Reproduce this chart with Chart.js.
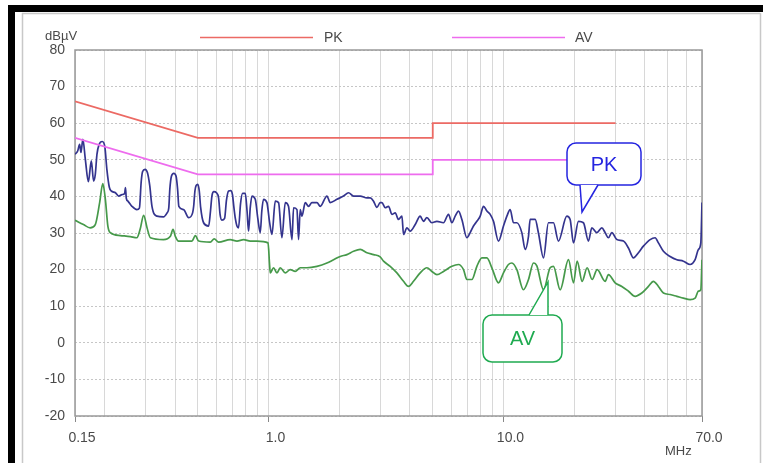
<!DOCTYPE html>
<html>
<head>
<meta charset="utf-8">
<script src="https://cdn.jsdelivr.net/npm/chart.js@4.4.0/dist/chart.umd.min.js"></script>
<style>
html, body { margin: 0; padding: 0; background: #fff; }
#wrap { width: 763px; height: 463px; }
</style>
</head>
<body>
<div id="wrap"><canvas id="emiChart" width="763" height="463"></canvas></div>
<script>
// limit lines, PK and AV
const limitFreq = [0.15, 0.5, 5, 5, 30];
const pkLimit = [66, 56, 56, 60, 60];
const avLimit = [56, 46, 46, 50, 50];

// measured peak trace (MHz / dBuV)
const pkFreq = [
  0.150,0.154,0.157,0.159,0.162,0.166,0.171,0.176,0.180,0.183,
  0.186,0.190,0.196,0.201,0.205,0.210,0.214,0.223,0.230,0.238,
  0.244,0.246,0.248,0.252,0.262,0.275,0.282,0.287,0.291,0.298,
  0.305,0.312,0.319,0.335,0.357,0.370,0.376,0.380,0.386,0.395,
  0.404,0.410,0.415,0.435,0.457,0.475,0.480,0.486,0.492,0.500,
  0.507,0.514,0.529,0.556,0.566,0.574,0.585,0.600,0.613,0.622,
  0.633,0.650,0.662,0.676,0.690,0.702,0.712,0.722,0.733,0.745,
  0.760,0.775,0.796,0.810,0.822,0.836,0.850,0.878,0.900,0.922,
  0.936,0.952,0.984,1.010,1.034,1.068,1.103,1.140,1.178,1.216,
  1.258,1.278,1.321,1.342,1.364,1.387,1.433,1.480,1.530,1.607,
  1.660,1.772,1.830,1.955,2.085,2.190,2.300,2.456,2.623,2.709,
  2.798,2.893,2.987,3.038,3.137,3.241,3.351,3.461,3.574,3.696,
  3.754,3.881,4.009,4.210,4.421,4.566,4.721,4.958,5.207,5.555,
  5.834,6.031,6.229,6.434,6.652,6.986,7.216,7.453,7.706,7.960,
  8.222,8.501,8.780,9.067,9.522,10.00,10.34,10.68,11.03,11.40,
  11.97,12.37,12.78,12.99,13.64,14.09,14.80,15.54,16.32,17.14,
  18.61,19.22,19.86,20.85,21.90,23.00,23.78,24.97,26.22,27.09,
  27.98,28.93,30.38,32.41,34.04,35.75,37.54,39.41,42.10,44.21,
  45.66,47.96,51.22,54.70,58.34,62.30,65.43,67.59,69.19,70.0
];
const pkLevel = [
  51.5,52.4,54.2,52,55.6,50.1,44,49.7,44.2,46,
  51.5,54.2,55,53.5,47.4,42.5,41.5,41,40.1,40.5,
  40.8,42.4,39.5,38.7,37.3,36.4,36.8,44,46.8,47.4,
  46.5,43,37.3,34.6,34.4,35.5,36.8,42,45.5,46.3,
  45.5,42,37.3,36.4,34.2,35.5,37.3,41.5,43,43.3,
  41.5,37,32.8,31.9,36,40.1,41.3,41,39.5,35,
  33.5,34,39,41.5,41.6,40.5,37,34,32,31.4,
  38,40.8,40.8,36,30.5,37,40.1,39.2,34,30.1,
  36,39.2,38.3,33,29.6,38.7,38.3,28.7,38.3,37.3,
  28.2,36.9,36.4,28.2,36.4,34.6,38.3,37.3,38.3,38.3,
  37.3,40.1,38.3,39.2,40.1,41,40.1,40.1,39.6,39.6,
  38.7,37,38.3,38.3,36.9,37.3,35.1,35.5,33.7,34.6,
  29.6,31.4,30.5,32.3,34.6,33.2,34.2,32.8,33.2,32.8,
  35.1,32.8,34.6,36,33.7,28.7,30.1,31.9,33.2,34.6,
  37.3,36,35.1,33.2,27.8,31.9,34.6,36.4,32.8,32.8,
  30.1,25.5,29.1,33.7,33.7,30,23.2,32.8,32.8,27.8,
  34.6,33.7,27.3,33.2,32.8,27.8,31.4,30.1,31.4,30.1,
  28.7,30.1,28.2,27.8,25.9,23.2,24.6,26.4,28.2,28.7,
  27.3,25,23.6,22.7,22.3,21.4,22.7,25.5,27.3,38.3
];

// measured average trace
const avFreq = [
  0.150,0.163,0.174,0.183,0.191,0.197,0.202,0.207,0.212,0.234,
  0.258,0.275,0.284,0.294,0.304,0.314,0.357,0.382,0.392,0.401,
  0.414,0.472,0.488,0.504,0.565,0.587,0.613,0.687,0.734,0.783,
  0.836,0.893,0.995,1.010,1.017,1.050,1.086,1.121,1.178,1.237,
  1.299,1.364,1.457,1.607,1.772,1.891,2.019,2.156,2.300,2.456,
  2.623,2.798,2.987,3.086,3.295,3.518,3.754,3.941,4.140,4.421,
  4.721,4.958,5.207,5.555,6.031,6.434,6.759,6.986,7.337,7.706,
  8.093,8.501,8.924,9.522,10.00,10.50,10.86,11.40,12.16,12.78,
  13.42,13.87,14.80,15.80,16.32,17.43,18.91,19.86,20.59,21.62,
  22.71,23.85,25.05,27.09,27.98,29.87,31.90,34.04,36.35,38.80,
  41.40,43.47,45.66,47.96,51.22,54.70,58.34,62.30,65.43,67.59,
  69.19,70.0
];
const avLevel = [
  33.5,32.3,31.4,32.3,38.3,43.5,39.2,31.9,30.1,29.3,
  29,28.7,31,34.8,31.4,28.7,28.2,29.1,31,29.1,
  27.8,27.8,29.3,27.8,27.5,28.4,27.5,28.2,27.8,28.2,
  27.8,27.8,27.3,21.4,19.1,20.5,19.1,20.5,19.1,20,
  19.5,20.5,20.5,20.9,21.8,22.7,23.6,24.1,25,25.5,
  24.6,24.1,23.5,22.3,20.9,19.1,16.8,15.4,16.8,19.1,
  20.5,19.5,18.6,19.5,20.9,21.4,20,17.3,17.3,20.9,
  23.2,23.2,20.5,16.4,19.1,21.4,21.8,20,14.5,17.3,
  21.8,21,14.5,20.5,20.9,14.5,22.7,16.4,22.3,16.8,
  20.5,17.3,20,16.8,18.6,16.4,15.4,14.1,12.7,13.6,
  15.4,16.8,15.4,13.6,13.2,12.7,12.2,11.8,12.2,14.1,
  14.5,22.7
];

// axis
const xGridFreq = [0.15,0.2,0.3,0.4,0.5,0.6,0.7,0.8,0.9,1,2,3,4,5,6,7,8,9,10,20,30,40,50,60,70];
const xLabelFreq = [0.15, 1, 10, 70];
const xTickLabels = ['0.15', '1.0', '10.0', '70.0'];
const yMin = -20, yMax = 80, yStep = 10;

const FONT = 'Liberation Sans, Arial, sans-serif';

function toPoints(xs, ys) {
  return xs.map((x, i) => ({ x: x, y: ys[i] }));
}

function roundRect(ctx, x, y, w, h, r) {
  ctx.beginPath();
  ctx.moveTo(x + r, y);
  ctx.lineTo(x + w - r, y);
  ctx.arcTo(x + w, y, x + w, y + r, r);
  ctx.lineTo(x + w, y + h - r);
  ctx.arcTo(x + w, y + h, x + w - r, y + h, r);
  ctx.lineTo(x + r, y + h);
  ctx.arcTo(x, y + h, x, y + h - r, r);
  ctx.lineTo(x, y + r);
  ctx.arcTo(x, y, x + r, y, r);
  ctx.closePath();
}

function callout(ctx, box, tri, color, text) {
  ctx.save();
  ctx.lineWidth = 1.5;
  ctx.strokeStyle = color;
  ctx.fillStyle = '#fff';
  roundRect(ctx, box[0], box[1], box[2], box[3], 9);
  ctx.fill();
  ctx.stroke();
  // pointer
  ctx.beginPath();
  ctx.moveTo(tri[0][0], tri[0][1]);
  ctx.lineTo(tri[1][0], tri[1][1]);
  ctx.lineTo(tri[2][0], tri[2][1]);
  ctx.closePath();
  ctx.fill();
  ctx.beginPath();
  ctx.moveTo(tri[0][0], tri[0][1]);
  ctx.lineTo(tri[1][0], tri[1][1]);
  ctx.lineTo(tri[2][0], tri[2][1]);
  ctx.stroke();
  ctx.fillStyle = color;
  ctx.font = '20px ' + FONT;
  ctx.textAlign = 'center';
  ctx.textBaseline = 'middle';
  ctx.fillText(text, box[0] + box[2] / 2, box[1] + box[3] / 2 + 1);
  ctx.restore();
}

const decorations = {
  id: 'decorations',
  beforeDraw(chart) {
    const ctx = chart.ctx;
    ctx.save();
    ctx.fillStyle = '#fff';
    ctx.fillRect(0, 0, chart.width, chart.height);
    // outer frame
    ctx.fillStyle = '#000';
    ctx.fillRect(8, 5, 755, 7);
    ctx.fillRect(8, 5, 7, 458);
    ctx.strokeStyle = '#c8c8c8';
    ctx.lineWidth = 1.5;
    ctx.beginPath();
    ctx.moveTo(22, 13.5); ctx.lineTo(760, 13.5);
    ctx.moveTo(22.5, 13); ctx.lineTo(22.5, 463);
    ctx.moveTo(760.5, 13); ctx.lineTo(760.5, 463);
    ctx.stroke();
    ctx.restore();
  },
  beforeDatasetsDraw(chart) {
    const ctx = chart.ctx;
    const a = chart.chartArea;
    ctx.save();
    ctx.strokeStyle = '#999';
    ctx.lineWidth = 1.5;
    ctx.strokeRect(a.left, a.top, a.right - a.left, a.bottom - a.top);
    ctx.restore();
  },
  afterDraw(chart) {
    const ctx = chart.ctx;
    ctx.save();
    ctx.fillStyle = '#4a4a4a';
    ctx.textBaseline = 'middle';
    ctx.font = '13px ' + FONT;
    ctx.textAlign = 'left';
    ctx.fillText('dB\u00B5V', 45, 36);
    ctx.fillText('MHz', 665, 451);
    // legend for the limit lines
    ctx.lineWidth = 1.6;
    ctx.strokeStyle = '#ec6a64';
    ctx.beginPath(); ctx.moveTo(200, 37.5); ctx.lineTo(313, 37.5); ctx.stroke();
    ctx.strokeStyle = '#ee6cee';
    ctx.beginPath(); ctx.moveTo(452, 37.5); ctx.lineTo(565, 37.5); ctx.stroke();
    ctx.font = '14px ' + FONT;
    ctx.fillText('PK', 324, 38);
    ctx.fillText('AV', 575, 38);
    ctx.restore();

    callout(ctx, [567, 143, 74, 42], [[580, 185], [582, 212], [598, 185]], '#2525e0', 'PK');
    callout(ctx, [483, 315, 79, 47], [[529, 315], [548, 282], [548, 315]], '#1faa50', 'AV');
  }
};

new Chart(document.getElementById('emiChart'), {
  type: 'line',
  data: {
    datasets: [
      {
        label: 'PK limit',
        data: toPoints(limitFreq, pkLimit),
        borderColor: '#ec6a64',
        borderWidth: 1.8,
        pointRadius: 0
      },
      {
        label: 'AV limit',
        data: toPoints(limitFreq, avLimit),
        borderColor: '#ee6cee',
        borderWidth: 1.8,
        pointRadius: 0
      },
      {
        label: 'AV',
        data: toPoints(avFreq, avLevel),
        borderColor: '#46994a',
        borderWidth: 1.7,
        cubicInterpolationMode: 'monotone',
        pointRadius: 0
      },
      {
        label: 'PK',
        data: toPoints(pkFreq, pkLevel),
        borderColor: '#34348e',
        borderWidth: 1.7,
        cubicInterpolationMode: 'monotone',
        pointRadius: 0
      }
    ]
  },
  options: {
    responsive: false,
    animation: false,
    devicePixelRatio: 1,
    layout: { padding: { top: 50, right: 61, bottom: 0, left: 0 } },
    plugins: {
      legend: { display: false },
      tooltip: { enabled: false }
    },
    scales: {
      x: {
        type: 'logarithmic',
        min: 0.15,
        max: 70,
        afterBuildTicks: (scale) => {
          scale.ticks = xGridFreq.map(v => ({ value: v }));
        },
        afterFit: (scale) => { scale.height = 47; },
        ticks: {
          autoSkip: false,
          maxRotation: 0,
          padding: 8,
          labelOffset: 7,
          color: '#4a4a4a',
          font: { family: FONT, size: 14 },
          callback: (v) => {
            const i = xLabelFreq.indexOf(v);
            return i >= 0 ? xTickLabels[i] : '';
          }
        },
        grid: {
          color: '#d8d8d8',
          lineWidth: 1,
          tickLength: 6,
          tickColor: (c) => (c.tick && xLabelFreq.includes(c.tick.value)) ? '#888' : 'rgba(0,0,0,0)'
        },
        border: { display: false }
      },
      y: {
        min: yMin,
        max: yMax,
        afterFit: (scale) => { scale.width = 75; },
        ticks: {
          stepSize: yStep,
          padding: 10,
          color: '#4a4a4a',
          font: { family: FONT, size: 14 }
        },
        grid: {
          color: '#c6c6c6',
          lineWidth: 1,
          drawTicks: false
        },
        border: { display: false, dash: [2, 2] }
      }
    }
  },
  plugins: [decorations]
});
</script>
</body>
</html>
